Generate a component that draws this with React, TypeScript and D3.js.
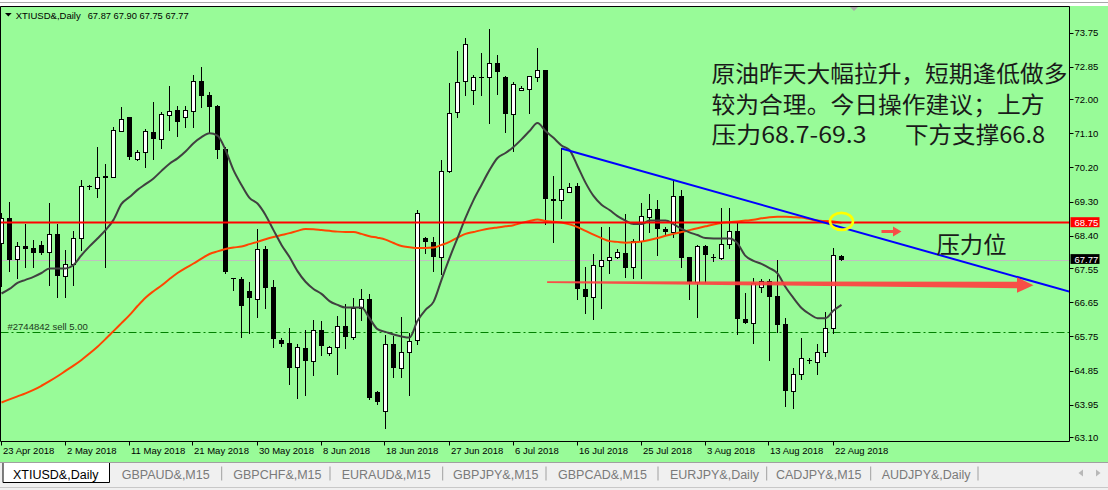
import React, { useEffect } from "react";
import * as d3 from "d3";

// ---------- DATA ----------
const symbolName = "XTIUSD&,Daily";
const lastBarText = "67.87 67.90 67.75 67.77";

const opens = [
  68.22, 68.86, 67.78, 68.13, 68.07, 68.15, 67.97, 68.44, 67.35, 67.65,
  68.33, 69.70, 69.67, 69.97, 69.94, 71.15, 71.52, 70.41, 70.60, 71.13,
  70.94, 71.57, 71.71, 71.52, 71.70, 72.48, 72.11, 71.82, 70.69, 67.29,
  67.26, 66.95, 66.74, 68.04, 67.04, 65.65, 65.57, 64.95, 65.44, 65.11,
  65.91, 65.30, 65.48, 66.03, 65.74, 66.49, 66.73, 64.28, 63.78, 65.54,
  64.93, 65.33, 65.65, 68.33, 68.24, 67.83, 70.11, 71.65, 72.48, 72.23,
  72.57, 72.59, 72.94, 72.59, 71.60, 72.23, 72.28, 72.57, 72.77, 69.37,
  69.34, 69.55, 69.71, 66.99, 66.78, 67.61, 67.76, 67.83, 67.96, 67.57,
  68.27, 68.90, 69.10, 68.59, 68.51, 69.45, 67.83, 67.19, 68.13, 67.85,
  67.81, 68.18, 68.53, 66.20, 66.11, 67.06, 67.22, 66.81, 66.08, 64.31,
  64.77, 65.13, 65.08, 65.35, 65.96, 67.87,
];
const highs = [
  68.99, 69.28, 68.24, 68.70, 68.29, 68.26, 69.27, 68.71, 68.03, 68.53,
  69.87, 69.73, 70.73, 70.28, 71.27, 71.78, 71.54, 70.66, 71.21, 71.92,
  71.67, 72.35, 71.82, 71.83, 72.64, 72.85, 72.18, 71.85, 70.73, 67.29,
  67.32, 67.19, 68.57, 68.13, 67.24, 65.72, 65.96, 65.54, 65.92, 66.18,
  66.16, 65.50, 66.29, 66.60, 66.75, 66.99, 66.86, 64.31, 65.79, 65.77,
  66.25, 65.84, 69.08, 68.38, 68.38, 70.40, 72.42, 73.27, 73.62, 72.64,
  73.21, 73.85, 73.16, 72.61, 72.46, 72.34, 72.62, 73.36, 72.77, 69.97,
  70.70, 69.78, 69.78, 67.57, 67.92, 68.64, 68.64, 68.04, 68.97, 68.31,
  69.27, 69.50, 69.34, 68.64, 69.87, 69.61, 67.84, 68.16, 68.16, 67.92,
  69.12, 69.12, 68.73, 66.90, 67.28, 67.26, 67.25, 67.76, 66.23, 64.91,
  65.70, 65.17, 65.55, 66.40, 68.07, 67.90,
];
const lows = [
  67.08, 67.48, 67.28, 67.59, 67.59, 67.93, 67.10, 66.80, 66.80, 67.10,
  68.03, 69.64, 69.41, 67.57, 69.94, 71.15, 70.41, 70.40, 70.22, 70.43,
  70.71, 71.19, 71.03, 71.27, 71.27, 71.80, 71.10, 70.44, 67.41, 66.97,
  65.74, 65.85, 66.27, 66.49, 65.46, 65.50, 64.50, 64.13, 64.21, 64.73,
  65.26, 65.25, 64.76, 65.44, 65.67, 66.18, 64.10, 63.96, 63.34, 64.69,
  64.69, 64.21, 65.54, 67.95, 67.48, 67.39, 70.09, 71.54, 72.11, 71.87,
  72.11, 71.38, 72.14, 71.14, 70.64, 72.23, 71.64, 72.48, 68.70, 68.23,
  68.86, 69.55, 66.73, 66.36, 66.20, 66.49, 67.43, 67.81, 67.32, 67.28,
  67.28, 68.51, 67.89, 68.46, 68.36, 67.59, 66.73, 66.27, 67.19, 67.74,
  67.78, 68.07, 65.81, 66.11, 65.57, 66.93, 65.13, 65.87, 63.92, 63.87,
  64.62, 65.06, 64.76, 65.23, 65.85, 67.75,
];
const closes = [
  68.86, 67.76, 68.13, 68.06, 67.95, 67.95, 68.44, 67.35, 67.65, 68.33,
  69.71, 69.68, 69.96, 69.91, 71.19, 71.47, 70.48, 70.60, 71.16, 70.96,
  71.61, 71.69, 71.41, 71.71, 72.47, 72.09, 71.80, 70.66, 67.44, 67.27,
  66.56, 66.77, 68.04, 67.03, 65.67, 65.55, 64.93, 65.46, 65.11, 65.91,
  65.50, 65.48, 66.03, 65.74, 66.49, 66.73, 64.13, 64.03, 65.54, 64.93,
  65.33, 65.64, 68.99, 68.24, 67.83, 70.11, 71.64, 72.46, 73.44, 72.59,
  72.56, 72.94, 72.72, 71.61, 72.39, 72.30, 72.61, 72.77, 69.36, 69.31,
  69.62, 69.69, 66.99, 66.78, 67.63, 67.76, 67.83, 67.97, 67.54, 68.27,
  68.93, 69.10, 68.58, 68.51, 69.45, 67.82, 67.19, 68.13, 67.89, 67.81,
  68.18, 68.53, 66.20, 66.11, 67.16, 67.22, 66.78, 66.05, 64.32, 64.75,
  65.19, 65.10, 65.35, 65.96, 67.89, 67.77,
];

// fast moving average (dark line), one value per bar
const maFast = [
  66.88, 67.00, 67.16, 67.24, 67.32, 67.42, 67.54, 67.54, 67.54, 67.63,
  67.89, 68.12, 68.33, 68.55, 68.82, 69.24, 69.42, 69.61, 69.76, 69.91,
  70.11, 70.30, 70.44, 70.62, 70.84, 71.00, 71.10, 71.04, 70.66, 70.13,
  69.74, 69.40, 69.25, 68.95, 68.55, 68.16, 67.84, 67.47, 67.19, 67.00,
  66.87, 66.68, 66.58, 66.51, 66.51, 66.51, 66.23, 65.94, 65.87, 65.80,
  65.75, 65.72, 66.16, 66.45, 66.66, 67.24, 67.81, 68.34, 68.87, 69.34,
  69.74, 70.13, 70.45, 70.58, 70.74, 70.94, 71.16, 71.37, 71.16, 70.98,
  70.78, 70.66, 70.24, 69.80, 69.45, 69.22, 69.08, 68.92, 68.80, 68.71,
  68.71, 68.80, 68.80, 68.80, 68.71, 68.58, 68.49, 68.42, 68.34, 68.33,
  68.33, 68.33, 68.20, 67.87, 67.74, 67.66, 67.55, 67.41, 67.05, 66.76,
  66.50, 66.34, 66.23, 66.23, 66.43, 66.58,
];
// slow moving average (orange-red line), one value per bar
const maSlow = [
  64.01, 64.09, 64.17, 64.25, 64.34, 64.45, 64.57, 64.70, 64.84, 64.98,
  65.13, 65.30, 65.48, 65.68, 65.89, 66.10, 66.31, 66.55, 66.77, 66.94,
  67.09, 67.26, 67.42, 67.55, 67.67, 67.80, 67.92, 67.99, 68.05, 68.09,
  68.12, 68.18, 68.24, 68.31, 68.37, 68.42, 68.47, 68.53, 68.58, 68.57,
  68.55, 68.53, 68.51, 68.50, 68.50, 68.45, 68.39, 68.35, 68.30, 68.21,
  68.13, 68.10, 68.08, 68.08, 68.09, 68.16, 68.24, 68.35, 68.45, 68.50,
  68.55, 68.59, 68.62, 68.65, 68.68, 68.74, 68.79, 68.83, 68.79, 68.77,
  68.75, 68.70, 68.63, 68.53, 68.43, 68.34, 68.26, 68.24, 68.22, 68.23,
  68.25, 68.29, 68.34, 68.40, 68.45, 68.50, 68.55, 68.60, 68.65, 68.70,
  68.74, 68.76, 68.78, 68.80, 68.82, 68.86, 68.89, 68.90, 68.90, 68.89,
  68.88, 68.84, 68.80, 68.79, 68.78, 68.74,
];

const xTickLabels = [
  "23 Apr 2018", "2 May 2018", "11 May 2018", "21 May 2018", "30 May 2018",
  "8 Jun 2018", "18 Jun 2018", "27 Jun 2018", "6 Jul 2018", "16 Jul 2018",
  "25 Jul 2018", "3 Aug 2018", "13 Aug 2018", "22 Aug 2018",
];
const yTickValues = [73.75, 72.85, 72.0, 71.1, 70.2, 69.3, 68.4, 67.55, 66.65, 65.75, 64.85, 63.95, 63.1];

const resistanceLevel = 68.75;
const bidPrice = 67.77;
const orderPrice = 65.86;
const orderLabel = "#2744842 sell 5.00";

const trendStart = { bar: 70, price: 70.7 };
const trendEnd = { bar: 104, price: 68.68 };
const bigArrow = { fromBar: 68.2, fromPrice: 67.18, toBar: 129, toPrice: 67.1 };
const smallArrow = { fromBar: 110, toBar: 112.5, price: 68.51 };
const circleMark = { bar: 105, price: 68.78 };

const noteLines = ["原油昨天大幅拉升，短期逢低做多", "较为合理。今日操作建议；上方"];
const noteLine3a = "压力68.7-69.3";
const noteLine3b = "下方支撑66.8";
const pressureLabel = "压力位";

const tabNames = [
  "XTIUSD&,Daily", "GBPAUD&,M15", "GBPCHF&,M15", "EURAUD&,M15", "GBPJPY&,M15",
  "GBPCAD&,M15", "EURJPY&,Daily", "CADJPY&,M15", "AUDJPY&,Daily",
];

// ---------- LAYOUT ----------
const W = 1108;
const H = 490;
const plotL = 0.5;
const plotR = 1069.5;
const plotT = 6.5;
const plotB = 441.5;
const BG = "#98FB98";
const barsPerTick = 8;
const tabX = [13, 121.7, 233.3, 341.7, 453, 558, 670, 776, 881.7];
const sepX = [221.7, 330, 442.7, 546, 658, 766.7, 870.7, 978];
const FONT = "'Liberation Sans', Arial, sans-serif";
const CJK = "'Noto Sans CJK SC', sans-serif";

export default function App() {
  useEffect(() => {
    document.body.style.margin = "0";
  }, []);

  const x = d3.scaleLinear().domain([0, 133.5]).range([1.5, 1069.5]);
  const y = d3.scaleLinear().domain([63.1, 73.75]).range([437, 32.7]);

  const fastLine = d3
    .line<number>()
    .x((_, i) => x(i))
    .y((d) => y(d))
    .curve(d3.curveMonotoneX)(maFast) as string;
  const slowLine = d3
    .line<number>()
    .x((_, i) => x(i))
    .y((d) => y(d))
    .curve(d3.curveMonotoneX)(maSlow) as string;

  // trend line extended to right edge
  const tx1 = x(trendStart.bar);
  const ty1 = y(trendStart.price);
  const slope = (y(trendEnd.price) - ty1) / (x(trendEnd.bar) - tx1);
  const tx2 = plotR;
  const ty2 = ty1 + slope * (tx2 - tx1);

  // big arrow polygon
  const ax1 = x(bigArrow.fromBar);
  const ay1 = y(bigArrow.fromPrice);
  const ax2 = x(bigArrow.toBar);
  const ay2 = y(bigArrow.toPrice);
  const hx = ax2 - 16.5;
  const hy = ay1 + ((ay2 - ay1) * (hx - ax1)) / (ax2 - ax1);
  const bigArrowPts = [
    [ax1, ay1 - 0.8],
    [hx, hy - 3.2],
    [hx, hy - 7.7],
    [ax2, ay2],
    [hx, hy + 7.7],
    [hx, hy + 3.2],
    [ax1, ay1 + 0.8],
  ]
    .map((p) => p.join(","))
    .join(" ");

  const sx1 = x(smallArrow.fromBar);
  const sx2 = x(smallArrow.toBar);
  const sy = y(smallArrow.price);
  const sh = sx2 - 8.5;
  const smallArrowPts = [
    [sx1, sy - 1.5],
    [sh, sy - 1.5],
    [sh, sy - 5],
    [sx2, sy],
    [sh, sy + 5],
    [sh, sy + 1.5],
    [sx1, sy + 1.5],
  ]
    .map((p) => p.join(","))
    .join(" ");

  const candles = opens.map((o, i) => {
    const c = closes[i];
    const cx = x(i);
    const top = Math.round(y(Math.max(o, c)));
    const bot = Math.round(y(Math.min(o, c)));
    const up = c >= o;
    return (
      <g key={i}>
        <line x1={cx} x2={cx} y1={Math.round(y(highs[i]))} y2={Math.round(y(lows[i])) + 1} stroke="#000" strokeWidth={1} />
        {up ? (
          <rect x={cx - 2} y={top + 0.5} width={4} height={Math.max(1, bot - top)} fill="#fff" stroke="#000" strokeWidth={1} />
        ) : (
          <rect x={cx - 2.5} y={top} width={5} height={Math.max(1, bot - top)} fill="#000" />
        )}
      </g>
    );
  });

  const yr = (v: number) => Math.round(y(v)) + 0.5;
  const bidY = y(bidPrice);
  // nudge a tick label that sits right under the bid box so both stay legible
  const labelY = (v: number) => {
    const base = y(v) + 3.5;
    const d = y(v) - bidY;
    if (Math.abs(d) < 12) return base + (d > 0 ? 1.2 : -1.2);
    return base;
  };

  return (
    <svg
      width={W}
      height={H}
      viewBox={`0 0 ${W} ${H}`}
      style={{ position: "absolute", left: 0, top: 0, display: "block" }}
      fontFamily={FONT}
    >
      <defs>
        <clipPath id="plotClip">
          <rect x={plotL + 0.5} y={plotT + 0.5} width={plotR - plotL - 1} height={plotB - plotT - 1} />
        </clipPath>
      </defs>
      {/* window backgrounds */}
      <rect x={0} y={0} width={W} height={H} fill="#f0f0f0" />
      <rect x={0} y={0} width={W} height={6} fill="#ffffff" />
      <line x1={0} x2={W} y1={2.5} y2={2.5} stroke="#a8a8a8" />
      <rect x={0} y={6} width={W} height={456} fill={BG} />

      {/* plot content */}
      <g clipPath="url(#plotClip)">
        <line x1={plotL} x2={plotR} y1={yr(bidPrice)} y2={yr(bidPrice)} stroke="#c0c0c0" strokeWidth={1} />
        <line
          x1={plotL}
          x2={plotR}
          y1={yr(orderPrice)}
          y2={yr(orderPrice)}
          stroke="#008000"
          strokeWidth={1}
          strokeDasharray="8 3 2 3"
        />
        {candles}
        <path d={slowLine} fill="none" stroke="#ff4500" strokeWidth={2} />
        <path d={fastLine} fill="none" stroke="#404040" strokeWidth={2} />
        <line x1={plotL} x2={plotR} y1={y(resistanceLevel)} y2={y(resistanceLevel)} stroke="#ff0000" strokeWidth={2} />
        <line x1={tx1} y1={ty1} x2={tx2} y2={ty2} stroke="#0000ff" strokeWidth={2} />
        <polygon points={bigArrowPts} fill="#ff4040" opacity={0.92} />
        <polygon points={smallArrowPts} fill="#ff4040" opacity={0.92} />
        <ellipse cx={x(circleMark.bar)} cy={y(circleMark.price)} rx={11.5} ry={8.5} fill="none" stroke="#ffff00" strokeWidth={2.6} />
        <text x={7.5} y={yr(orderPrice) - 2.5} fontSize={9.5} fill="#1c3a1c">
          {orderLabel}
        </text>
      </g>

      {/* annotations */}
      <g fontFamily={CJK} fill="#1a1a1a">
        {noteLines.map((t, i) => (
          <text key={i} x={711.5} y={81.5 + i * 31} fontSize={22.5} textLength={i === 0 ? 356 : 333} lengthAdjust="spacingAndGlyphs">
            {t}
          </text>
        ))}
        <text x={711.5} y={143} fontSize={22.5} textLength={155} lengthAdjust="spacingAndGlyphs">
          {noteLine3a}
        </text>
        <text x={905} y={143} fontSize={22.5} textLength={140} lengthAdjust="spacingAndGlyphs">
          {noteLine3b}
        </text>
        <text x={936.5} y={253} fontSize={23} textLength={70} lengthAdjust="spacingAndGlyphs">
          {pressureLabel}
        </text>
      </g>

      {/* header */}
      <polygon points="5,13 11.7,13 8.35,16.4" fill="#000" />
      <text x={15.7} y={18.5} fontSize={9.5} fill="#000" textLength={65} lengthAdjust="spacingAndGlyphs">
        {symbolName}
      </text>
      <text x={87.7} y={18.5} fontSize={9.5} fill="#000" textLength={101} lengthAdjust="spacingAndGlyphs">
        {lastBarText}
      </text>
      <polygon points="849,6 859,6 854,11" fill="#a8a8a8" />

      {/* frame */}
      <path d={`M${plotL},${plotT} H${plotR} V${plotB} H${plotL} Z`} fill="none" stroke="#000" strokeWidth={1} />

      {/* price axis */}
      {yTickValues.map((v) => (
        <g key={v}>
          <line x1={plotR} x2={plotR + 4} y1={yr(v)} y2={yr(v)} stroke="#000" />
          <text x={1074.5} y={labelY(v)} fontSize={9.5} fill="#000">
            {v.toFixed(2)}
          </text>
        </g>
      ))}
      <rect x={1070.5} y={y(resistanceLevel) - 5.3} width={29} height={10} fill="#ff0000" />
      <text x={1074.5} y={y(resistanceLevel) + 3.3} fontSize={9.5} fill="#fff">
        {resistanceLevel.toFixed(2)}
      </text>
      <rect x={1070.5} y={bidY - 5.6} width={29} height={9.8} fill="#000" />
      <text x={1074.5} y={bidY + 2.8} fontSize={9.5} fill="#fff">
        {bidPrice.toFixed(2)}
      </text>

      {/* time axis */}
      {xTickLabels.map((t, k) => {
        const tx = Math.round(x(k * barsPerTick)) - 0.5;
        return (
          <g key={t}>
            <line x1={tx} x2={tx} y1={plotB} y2={plotB + 4} stroke="#000" />
            <text x={tx + 1.5} y={453.5} fontSize={9.5} fill="#000">
              {t}
            </text>
          </g>
        );
      })}

      {/* tab bar */}
      <line x1={0} x2={W} y1={462.5} y2={462.5} stroke="#a0a0a0" />
      <line x1={0} x2={W} y1={487.5} y2={487.5} stroke="#c8c8c8" />
      <rect x={3} y={463} width={106.5} height={19.5} fill="#fff" />
      <path d="M3,463 V482.5 H109.5 V463" fill="none" stroke="#000" strokeWidth={1} />
      {tabNames.map((t, i) => (
        <text key={t} x={tabX[i]} y={478.8} fontSize={12.5} fill={i === 0 ? "#000" : "#7a7a7a"}>
          {t}
        </text>
      ))}
      {sepX.map((sxv, i) => (
        <line key={i} x1={sxv} x2={sxv} y1={466.5} y2={480.5} stroke="#a0a0a0" />
      ))}
      <polygon points="1083,469.5 1083,476.5 1078.5,473" fill="#b8b8b8" />
      <polygon points="1096,469.5 1096,476.5 1100.5,473" fill="#b8b8b8" />
    </svg>
  );
}
